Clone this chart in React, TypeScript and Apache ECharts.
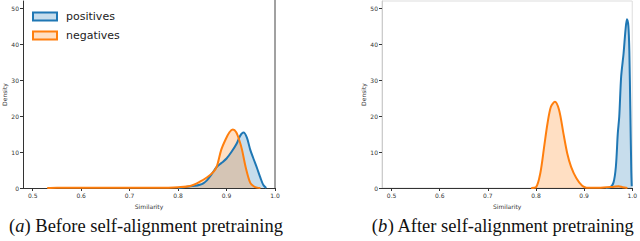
import React, { useEffect, useRef } from "react";
import * as echarts from "echarts";

const xTicks = [0.5, 0.6, 0.7, 0.8, 0.9, 1.0];
const yTicks = [0, 10, 20, 30, 40, 50];

// (a) Before self-alignment pretraining
const beforePositives: [number, number][] = [
  [0.8, 0], [0.815, 0.3], [0.825, 0.5], [0.835, 0.6], [0.845, 0.9], [0.852, 1.3],
  [0.86, 2.2], [0.868, 3.6], [0.875, 5.0], [0.88, 5.9], [0.89, 7.0], [0.9, 8.2],
  [0.91, 10.0], [0.921, 12.4], [0.928, 14.5], [0.935, 15.4], [0.942, 14.0],
  [0.949, 10.6], [0.956, 8.0], [0.963, 5.5], [0.97, 2.8], [0.976, 0.8], [0.982, 0],
];
const beforeNegatives: [number, number][] = [
  [0.53, 0], [0.55, 0.1], [0.6, 0.05], [0.7, 0.05], [0.78, 0.1], [0.8, 0.2],
  [0.825, 0.55], [0.845, 1.75], [0.86, 3.0], [0.873, 4.5], [0.88, 6.0],
  [0.889, 10.6], [0.898, 13.5], [0.906, 15.5], [0.913, 16.3], [0.92, 15.5],
  [0.927, 13.0], [0.932, 10.6], [0.94, 5.5], [0.949, 1.4], [0.956, 0.5],
  [0.963, 0.1], [0.97, 0],
];

// (b) After self-alignment pretraining
const afterPositives: [number, number][] = [
  [0.945, 0], [0.953, 0.1], [0.961, 1.5], [0.966, 5.9], [0.97, 15.2], [0.973, 19.8],
  [0.977, 31], [0.982, 37.4], [0.986, 43.9], [0.989, 46.9], [0.992, 45],
  [0.994, 38], [0.996, 22], [0.998, 5], [0.999, 0.5],
];
const afterNegatives: [number, number][] = [
  [0.79, 0], [0.8, 0.2], [0.809, 4.1], [0.817, 11.5], [0.824, 18], [0.831, 22.6],
  [0.8394, 24.0], [0.848, 21.7], [0.857, 15.2], [0.865, 9.6], [0.873, 5.9],
  [0.884, 2.7], [0.896, 0.6], [0.905, 0.1], [0.93, 0.05], [0.96, 0.3],
  [0.972, 0.5], [0.98, 0.2], [0.99, 0],
];

const BLUE = "#1f77b4";
const ORANGE = "#ff7f0e";
const BLUE_FILL = "rgba(31,119,180,0.25)";
const ORANGE_FILL = "rgba(255,127,14,0.25)";

export default function App() {
  const ref = useRef<HTMLDivElement>(null);
  useEffect(() => {
    document.body.style.margin = "0";
    const chart = echarts.init(ref.current!, null, { renderer: "svg" });
    const tickFont = { fontFamily: "DejaVu Sans", fontSize: 6, color: "#333" };
    const mkX = (gridIndex: number) => ({
      type: "value" as const,
      gridIndex,
      min: 0.48,
      max: 1.0,
      name: "Similarity",
      nameLocation: "middle" as const,
      nameGap: 15,
      nameTextStyle: { fontFamily: "DejaVu Sans", fontSize: 6, color: "#333" },
      splitLine: { show: false },
      axisLine: { show: true, lineStyle: { color: "#333", width: 1 } },
      axisTick: { show: true, length: 3, customValues: xTicks, lineStyle: { color: "#333" } },
      axisLabel: {
        ...tickFont,
        margin: 4,
        customValues: xTicks,
        formatter: (v: number) => v.toFixed(1),
      },
    });
    const mkY = (gridIndex: number, lineColor: string) => ({
      type: "value" as const,
      gridIndex,
      min: 0,
      max: 52,
      name: "Density",
      nameLocation: "middle" as const,
      nameGap: 16,
      nameTextStyle: { fontFamily: "DejaVu Sans", fontSize: 6, color: "#333" },
      splitLine: { show: false },
      axisLine: { show: true, lineStyle: { color: lineColor, width: 1 } },
      axisTick: { show: true, length: 3, customValues: yTicks, lineStyle: { color: "#333" } },
      axisLabel: { ...tickFont, margin: 4, customValues: yTicks },
    });
    const mkSeries = (name: string, data: [number, number][], idx: number, color: string, fill: string) => ({
      type: "line" as const,
      name,
      data,
      xAxisIndex: idx,
      yAxisIndex: idx,
      smooth: 0.3,
      showSymbol: false,
      symbol: "none",
      lineStyle: { color, width: 2 },
      itemStyle: { color },
      areaStyle: { color: fill, opacity: 1 },
    });
    const capRich = {
      n: { fontFamily: "Liberation Serif", fontSize: 18.5, fill: "#111" },
      i: { fontFamily: "Liberation Serif", fontSize: 18.5, fontStyle: "italic", fill: "#111" },
    };
    chart.setOption({
      animation: false,
      grid: [
        { left: 23, right: 365, top: 1, bottom: 53 },
        { left: 382, right: 6, top: 1, bottom: 53, show: true, borderColor: "#ddd", borderWidth: 1 },
      ],
      xAxis: [mkX(0), mkX(1)],
      yAxis: [mkY(0, "#333"), mkY(1, "#ccc")],
      legend: {
        left: 32,
        top: 11,
        orient: "vertical",
        icon: "rect",
        itemWidth: 24,
        itemHeight: 8,
        itemGap: 8,
        padding: 0,
        textStyle: { fontFamily: "DejaVu Sans", fontSize: 11, color: "#222", padding: [0, 0, 0, 4] },
        data: [
          { name: "positives", itemStyle: { color: BLUE_FILL, borderColor: BLUE, borderWidth: 2 } },
          { name: "negatives", itemStyle: { color: ORANGE_FILL, borderColor: ORANGE, borderWidth: 2 } },
        ],
      },
      series: [
        mkSeries("positives", beforePositives, 0, BLUE, BLUE_FILL),
        mkSeries("negatives", beforeNegatives, 0, ORANGE, ORANGE_FILL),
        mkSeries("positives", afterPositives, 1, BLUE, BLUE_FILL),
        mkSeries("negatives", afterNegatives, 1, ORANGE, ORANGE_FILL),
      ],
      graphic: [
        {
          type: "line",
          shape: { x1: 275, y1: 0, x2: 275, y2: 188 },
          style: { stroke: "#444", lineWidth: 1 },
          silent: true,
        },
        {
          type: "text",
          x: 146,
          y: 226,
          style: {
            text: "{n|(}{i|a}{n|) Before self-alignment pretraining}",
            align: "center",
            verticalAlign: "middle",
            rich: capRich,
          },
        },
        {
          type: "text",
          x: 503,
          y: 226,
          style: {
            text: "{n|(}{i|b}{n|) After self-alignment pretraining}",
            align: "center",
            verticalAlign: "middle",
            rich: capRich,
          },
        },
      ],
    });
    return () => chart.dispose();
  }, []);
  return <div ref={ref} style={{ width: 640, height: 241 }} />;
}
